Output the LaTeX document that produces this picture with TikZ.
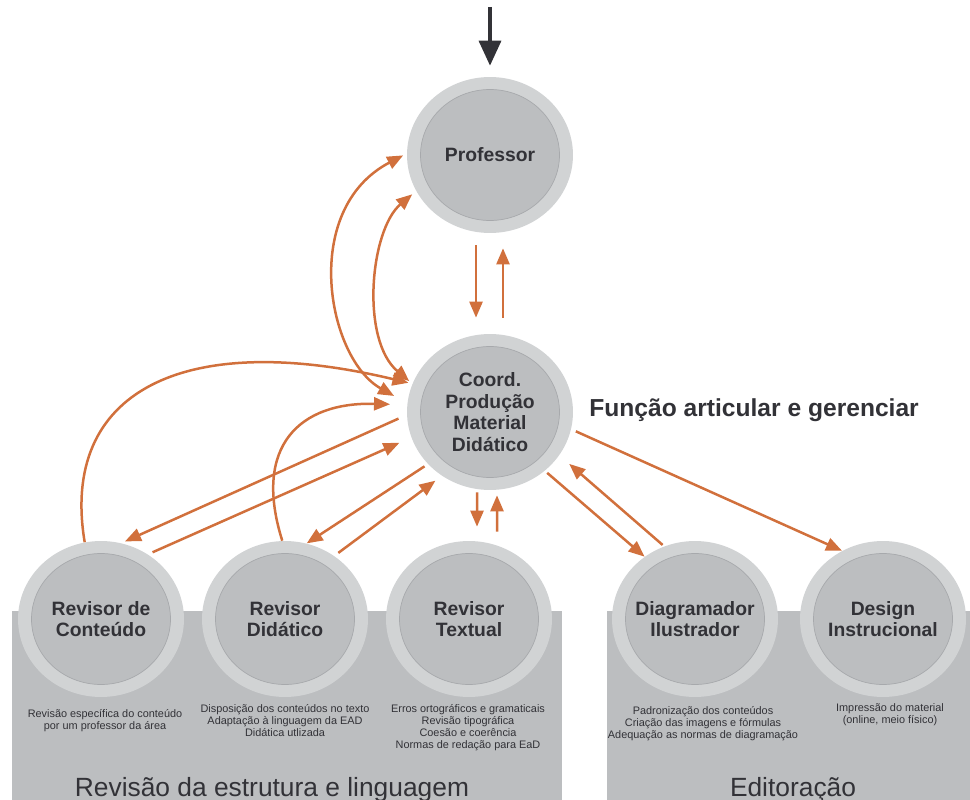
\documentclass[tikz,border=0pt]{standalone}
\usepackage{fontspec}
\setmainfont{Liberation Sans}
\usepackage{tikz}
\usetikzlibrary{arrows.meta,shapes.geometric}

\definecolor{anel}{RGB}{209,211,212}
\definecolor{miolo}{RGB}{188,190,192}
\definecolor{borda}{RGB}{167,169,172}
\definecolor{laranja}{RGB}{209,112,60}
\definecolor{escuro}{RGB}{50,50,55}

\tikzset{
  papel/.style={ellipse, fill=anel, minimum width=3.32cm, minimum height=3.12cm,
    inner xsep=-0.2cm, inner ysep=0pt, align=center, text=escuro,
    font=\fontsize{11}{12.3}\selectfont\bfseries,
    path picture={\draw[borda, fill=miolo, line width=0.4pt]
      (path picture bounding box.center) ellipse (1.39cm and 1.31cm);}},
  tarefa/.style={anchor=north, align=center, inner sep=0pt, text=escuro,
    font=\fontsize{6.2}{6.9}\selectfont},
  faixa/.style={anchor=base, inner sep=0pt, text=escuro, font=\fontsize{15}{16}\selectfont},
  fluxo/.style={draw=laranja, line width=0.05cm, -{Triangle[length=0.32cm,width=0.26cm]}},
  duplo/.style={fluxo, {Triangle[length=0.32cm,width=0.26cm]}-{Triangle[length=0.32cm,width=0.26cm]}},
  entra/.style={draw=escuro, line width=0.07cm, -{Triangle[length=0.5cm,width=0.44cm]}}
}

\begin{document}
\begin{tikzpicture}[x=0.02cm, y=-0.02cm]
  \useasboundingbox (0,0) rectangle (970,800);

  % faixas de fundo
  \fill[miolo] (12,611) rectangle (562,800);
  \fill[miolo] (607,611) rectangle (970,800);

  % papeis
  \node[papel] (prof)   at (490,155) {Professor};
  \node[papel] (coord)  at (490,412) {Coord.\\Produção\\Material\\Didático};
  \node[papel] (rcont)  at (101,619) {Revisor de\\Conteúdo};
  \node[papel] (rdid)   at (285,619) {Revisor\\Didático};
  \node[papel] (rtext)  at (469,619) {Revisor\\Textual};
  \node[papel] (diag)   at (695,619) {Diagramador\\Ilustrador};
  \node[papel] (design) at (883,619) {Design\\Instrucional};

  \node[anchor=west, inner sep=0pt, text=escuro, font=\fontsize{14}{16}\selectfont\bfseries]
    (funcao) at (589,410) {Função articular e gerenciar};

  % tarefas
  \node[tarefa] (tcont)   at (105,709) {Revisão específica do conteúdo\\por um professor da área};
  \node[tarefa] (tdid)    at (285,704) {Disposição dos conteúdos no texto\\Adaptação à linguagem da EAD\\Didática utlizada};
  \node[tarefa] (ttext)   at (468,704) {Erros ortográficos e gramaticais\\Revisão tipográfica\\Coesão e coerência\\Normas de redação para EaD};
  \node[tarefa] (tdiag)   at (703,706) {Padronização dos conteúdos\\Criação das imagens e fórmulas\\Adequação as normas de diagramação};
  \node[tarefa] (tdesign) at (890,703) {Impressão do material\\(online, meio físico)};

  \node[faixa] (trev) at (272,796) {Revisão da estrutura e linguagem};
  \node[faixa] (tedi) at (793,796) {Editoração};

  % entrada
  \coordinate (entrada) at (490,7);
  \draw[entra, shorten >=0.22cm] (entrada) -- (prof.north);

  % professor - coordenacao
  \draw[fluxo, shorten <=0.24cm, shorten >=0.32cm] ([xshift=-0.28cm]prof.south) -- ([xshift=-0.28cm]coord.north);
  \draw[fluxo, shorten <=0.32cm, shorten >=0.3cm] ([xshift=0.26cm]coord.north) -- ([xshift=0.26cm]prof.south);
  \draw[duplo, shorten <=0.1cm, shorten >=0.08cm] (prof.206) .. controls +(-46,39) and +(-52,-44) .. (coord.160);
  \draw[duplo, shorten <=0.08cm, shorten >=0.3cm] (prof.179) .. controls +(-107,56) and +(-80,-45) .. (coord.174);

  % revisores
  \draw[fluxo, shorten >=0.08cm] (rcont.102) .. controls +(-25,-150) and +(-230,-55) .. (coord.160);
  \draw[fluxo, shorten >=0.34cm] (rdid.92) .. controls +(-30,-95) and +(-107,-3) .. (coord.175);
  \draw[fluxo, shorten <=0.18cm, shorten >=0.08cm] (coord.182) -- (rcont.75);
  \draw[fluxo, shorten <=0.1cm, shorten >=0.26cm] (rcont.54) -- (coord.198);
  \draw[fluxo, shorten <=0.08cm] (coord.220) -- (rdid.74);
  \draw[fluxo, shorten <=0.1cm, shorten >=0.16cm] (rdid.52) -- (coord.233);
  \draw[fluxo, shorten <=0.04cm, shorten >=0.28cm] ([xshift=-0.26cm]coord.south) -- ([xshift=0.16cm]rtext.north);
  \draw[fluxo, shorten <=0.18cm, shorten >=0.1cm] ([xshift=0.56cm]rtext.north) -- ([xshift=0.14cm]coord.south);

  % editoracao
  \draw[fluxo, shorten <=0.06cm] (coord.313) -- (diag.129);
  \draw[fluxo, shorten <=0.04cm, shorten >=0.26cm] (diag.113) -- (coord.328);
  \draw[fluxo, shorten <=0.1cm] (coord.348) -- (design.121);
\end{tikzpicture}
\end{document}
